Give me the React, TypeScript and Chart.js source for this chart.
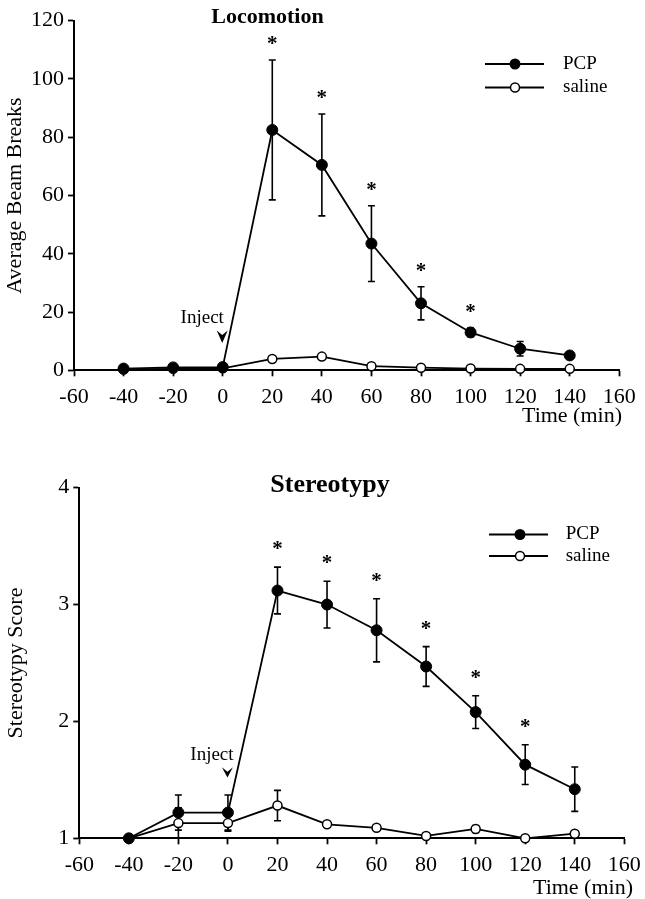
import React, { useEffect, useRef } from "react";
import { Chart, registerables } from "chart.js";

Chart.register(...registerables);

// ---- data ----
const times = [-40, -20, 0, 20, 40, 60, 80, 100, 120, 140];

const locoPcp = [0.6, 1.0, 1.1, 82.5, 70.5, 43.5, 23, 13, 7.4, 5.1];
const locoPcpErr = [0, 0, 0, 24, 17.5, 13, 5.7, 1.5, 2.5, 1];
const locoSaline = [0.3, 0.5, 0.7, 3.9, 4.7, 1.4, 0.9, 0.6, 0.5, 0.5];
const locoSalineErr = [0, 0, 0, 1, 1, 0.5, 0.5, 0.3, 0.3, 0.3];
const locoStars = [false, false, false, true, true, true, true, true, false, false];

const stereoPcp = [1.0, 1.22, 1.22, 3.12, 3.0, 2.78, 2.47, 2.08, 1.63, 1.42];
const stereoPcpErr = [0, 0.15, 0.15, 0.2, 0.2, 0.27, 0.17, 0.14, 0.17, 0.19];
const stereoSaline = [1.0, 1.13, 1.13, 1.28, 1.12, 1.09, 1.02, 1.08, 1.0, 1.04];
const stereoSalineErr = [0, 0.13, 0.07, 0.13, 0.01, 0.01, 0.01, 0.03, 0.01, 0.01];
const stereoStars = [false, false, false, true, true, true, true, true, true, false];

const seriesNames = ["PCP", "saline"];
const xLabel = "Time (min)";
const injectLabel = "Inject";

const SERIF = "'Liberation Serif', 'Times New Roman', serif";

type Panel = {
  title: string;
  titleX: number;
  titleBaseline: number;
  titleSize: number;
  yLabel: string;
  yMin: number;
  yMax: number;
  yStep: number;
  yTitlePad: number;
  pcp: number[];
  pcpErr: number[];
  saline: number[];
  salineErr: number[];
  stars: boolean[];
  canvasTop: number;
  canvasHeight: number;
  padding: { left: number; right: number; top: number; bottom: number };
  yAxisWidth: number;
  xAxisHeight: number;
  xTickLineHeight: number;
  xTitleRight: number;
  xTitleY: number;
  legend: { x1: number; x2: number; xm: number; xText: number; y1: number; y2: number };
  inject: { textDx: number; textValue: number; tipValue: number; baseValue: number };
  starGap: number;
};

const panels: Panel[] = [
  {
    title: "Locomotion",
    titleX: 267.5,
    titleBaseline: 23,
    titleSize: 22,
    yLabel: "Average Beam Breaks",
    yMin: 0,
    yMax: 120,
    yStep: 20,
    yTitlePad: 4,
    pcp: locoPcp,
    pcpErr: locoPcpErr,
    saline: locoSaline,
    salineErr: locoSalineErr,
    stars: locoStars,
    canvasTop: 0,
    canvasHeight: 440,
    padding: { left: 0, right: 25.7, top: 20.7, bottom: 10 },
    yAxisWidth: 74,
    xAxisHeight: 59.7,
    xTickLineHeight: 1.65,
    xTitleRight: 622,
    xTitleY: 416,
    legend: { x1: 485, x2: 544, xm: 515, xText: 563, y1: 64, y2: 87.5 },
    inject: { textDx: -20, textValue: 18, tipValue: 9.4, baseValue: 13.3 },
    starGap: 20,
  },
  {
    title: "Stereotypy",
    titleX: 330,
    titleBaseline: 52,
    titleSize: 26,
    yLabel: "Stereotypy Score",
    yMin: 1,
    yMax: 4,
    yStep: 1,
    yTitlePad: 5,
    pcp: stereoPcp,
    pcpErr: stereoPcpErr,
    saline: stereoSaline,
    salineErr: stereoSalineErr,
    stars: stereoStars,
    canvasTop: 440,
    canvasHeight: 459,
    padding: { left: 0, right: 20.7, top: 47.7, bottom: 0 },
    yAxisWidth: 79.3,
    xAxisHeight: 60.7,
    xTickLineHeight: 1.6,
    xTitleRight: 633,
    xTitleY: 448,
    legend: { x1: 489, x2: 548, xm: 520, xText: 565.7, y1: 94.5, y2: 116 },
    inject: { textDx: -15.5, textValue: 1.71, tipValue: 1.52, baseValue: 1.6 },
    starGap: 22,
  },
];

function annotPlugin(p: Panel) {
  return {
    id: "annot",
    beforeDatasetsDraw(chart: any) {
      const ctx = chart.ctx;
      const ys = chart.scales.y;
      ctx.save();
      ctx.strokeStyle = "#000";
      ctx.lineWidth = 1.6;
      const sets: [number[], number[]][] = [
        [p.pcp, p.pcpErr],
        [p.saline, p.salineErr],
      ];
      sets.forEach(([vals, errs], d) => {
        const meta = chart.getDatasetMeta(d);
        vals.forEach((v, i) => {
          const e = errs[i];
          if (!e) return;
          const x = meta.data[i].x;
          const y1 = ys.getPixelForValue(v + e);
          const y2 = ys.getPixelForValue(v - e);
          ctx.beginPath();
          ctx.moveTo(x, y1);
          ctx.lineTo(x, y2);
          ctx.moveTo(x - 3.5, y1);
          ctx.lineTo(x + 3.5, y1);
          ctx.moveTo(x - 3.5, y2);
          ctx.lineTo(x + 3.5, y2);
          ctx.stroke();
        });
      });
      ctx.restore();
    },
    afterDraw(chart: any) {
      const ctx = chart.ctx;
      const xs = chart.scales.x;
      const ys = chart.scales.y;
      ctx.save();
      ctx.fillStyle = "#000";
      ctx.strokeStyle = "#000";
      // title
      ctx.font = `bold ${p.titleSize}px ${SERIF}`;
      ctx.textAlign = "center";
      ctx.textBaseline = "alphabetic";
      ctx.fillText(p.title, p.titleX, p.titleBaseline);

      // x axis title
      ctx.font = `22px ${SERIF}`;
      ctx.textAlign = "right";
      ctx.textBaseline = "middle";
      ctx.fillText(xLabel, p.xTitleRight, p.xTitleY);
      ctx.textAlign = "center";
      ctx.textBaseline = "alphabetic";

      // asterisks
      const meta = chart.getDatasetMeta(0);
      ctx.font = `bold 21px ${SERIF}`;
      p.stars.forEach((s, i) => {
        if (!s) return;
        const x = meta.data[i].x;
        const yTop = ys.getPixelForValue(p.pcp[i] + p.pcpErr[i]);
        const cy = yTop - p.starGap;
        ctx.fillText("*", x, cy + 10);
      });

      // inject
      const ix = xs.getPixelForValue(0) - 0.5;
      ctx.font = `19px ${SERIF}`;
      ctx.textBaseline = "middle";
      ctx.fillText(injectLabel, ix + p.inject.textDx, ys.getPixelForValue(p.inject.textValue));
      const tip = ys.getPixelForValue(p.inject.tipValue);
      const base = ys.getPixelForValue(p.inject.baseValue);
      ctx.beginPath();
      ctx.moveTo(ix, tip);
      ctx.lineTo(ix - 5.5, base - 1);
      ctx.lineTo(ix, base + 3.5);
      ctx.lineTo(ix + 5.5, base - 1);
      ctx.closePath();
      ctx.fill();

      // legend
      const L = p.legend;
      ctx.lineWidth = 1.8;
      [L.y1, L.y2].forEach((y, k) => {
        ctx.beginPath();
        ctx.moveTo(L.x1, y);
        ctx.lineTo(L.x2, y);
        ctx.stroke();
        ctx.beginPath();
        ctx.arc(L.xm, y, k === 0 ? 5.5 : 4.5, 0, Math.PI * 2);
        if (k === 0) {
          ctx.fill();
        } else {
          ctx.fillStyle = "#fff";
          ctx.fill();
          ctx.fillStyle = "#000";
          ctx.lineWidth = 1.5;
          ctx.stroke();
        }
        ctx.font = `19px ${SERIF}`;
        ctx.textAlign = "left";
        ctx.textBaseline = "middle";
        ctx.fillText(seriesNames[k], L.xText, y);
        ctx.textAlign = "center";
      });
      ctx.restore();
    },
  };
}

function makeConfig(p: Panel): any {
  return {
    type: "line",
    data: {
      datasets: [
        {
          label: seriesNames[0],
          data: times.map((t, i) => ({ x: t, y: p.pcp[i] })),
          borderColor: "#000",
          borderWidth: 1.8,
          pointRadius: 5.5,
          pointBackgroundColor: "#000",
          pointBorderColor: "#000",
          pointBorderWidth: 1,
          tension: 0,
          fill: false,
          clip: false,
        },
        {
          label: seriesNames[1],
          data: times.map((t, i) => ({ x: t, y: p.saline[i] })),
          borderColor: "#000",
          borderWidth: 1.8,
          pointRadius: 4.5,
          pointBackgroundColor: "#fff",
          pointBorderColor: "#000",
          pointBorderWidth: 1.5,
          tension: 0,
          fill: false,
          clip: false,
        },
      ],
    },
    options: {
      animation: false,
      responsive: false,
      devicePixelRatio: 1,
      events: [],
      layout: { padding: p.padding },
      plugins: {
        legend: { display: false },
        tooltip: { enabled: false },
        title: { display: false },
      },
      scales: {
        x: {
          type: "linear",
          min: -60,
          max: 160,
          afterFit: (s: any) => {
            s.height = p.xAxisHeight;
          },
          ticks: {
            stepSize: 20,
            color: "#000",
            font: { family: SERIF, size: 22, lineHeight: p.xTickLineHeight },
            padding: 3,
            maxRotation: 0,
            autoSkip: false,
          },
          grid: {
            display: true,
            drawOnChartArea: false,
            drawTicks: true,
            tickLength: 6,
            tickWidth: 1.8,
            tickColor: "#000",
          },
          border: { display: true, color: "#000", width: 2 },
          title: { display: false },
        },
        y: {
          type: "linear",
          min: p.yMin,
          max: p.yMax,
          afterFit: (s: any) => {
            s.width = p.yAxisWidth;
          },
          ticks: {
            stepSize: p.yStep,
            color: "#000",
            font: { family: SERIF, size: 22 },
            padding: 4,
          },
          grid: {
            display: true,
            drawOnChartArea: false,
            drawTicks: true,
            tickLength: 6,
            tickWidth: 1.8,
            tickColor: "#000",
          },
          border: { display: true, color: "#000", width: 2 },
          title: {
            display: true,
            text: p.yLabel,
            color: "#000",
            font: { family: SERIF, size: 22, lineHeight: 1 },
            padding: { top: p.yTitlePad, bottom: 0 },
          },
        },
      },
    },
    plugins: [annotPlugin(p)],
  };
}

function PanelChart({ p }: { p: Panel }) {
  const ref = useRef<HTMLCanvasElement | null>(null);
  useEffect(() => {
    if (!ref.current) return;
    const chart = new Chart(ref.current, makeConfig(p));
    return () => chart.destroy();
  }, [p]);
  return (
    <canvas
      ref={ref}
      width={645}
      height={p.canvasHeight}
      style={{
        position: "absolute",
        left: 0,
        top: p.canvasTop,
        width: 645,
        height: p.canvasHeight,
        display: "block",
      }}
    />
  );
}

export default function App() {
  return (
    <div
      style={{
        position: "absolute",
        left: 0,
        top: 0,
        width: 645,
        height: 899,
        background: "#fff",
        overflow: "hidden",
      }}
    >
      {panels.map((p) => (
        <PanelChart key={p.title} p={p} />
      ))}
    </div>
  );
}
